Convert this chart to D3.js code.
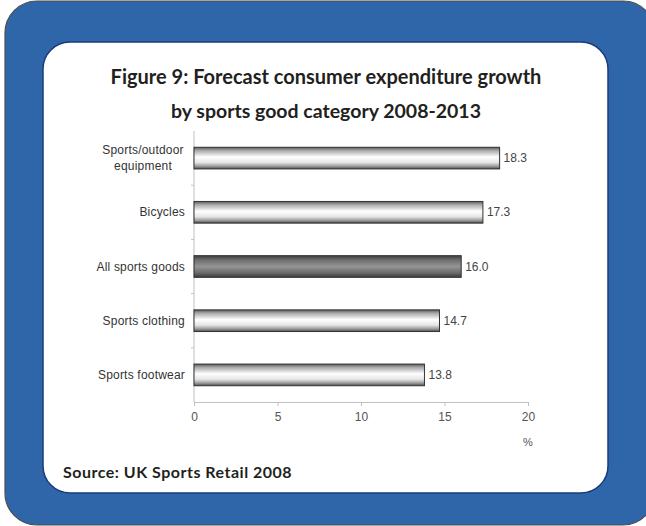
<!DOCTYPE html>
<html>
<head>
<meta charset="utf-8">
<script src="https://cdn.jsdelivr.net/npm/d3@7"></script>
<style>
    body { margin: 0; background: #fff; }
    svg { display: block; }
</style>
</head>
<body>
<div class="vis-bar"></div>
<script>
const categories = ['Sports/outdoor equipment', 'Bicycles', 'All sports goods', 'Sports clothing', 'Sports footwear'];
const values = [18.3, 17.3, 16.0, 14.7, 13.8];
const highlight = ['All sports goods'];
const xTicks = [0, 5, 10, 15, 20];
const titleLines = ['Figure 9: Forecast consumer expenditure growth', 'by sports good category 2008-2013'];
const sourceText = 'Source: UK Sports Retail 2008';

const W = 646;
const H = 526;
const margin = { top: 131, right: 118, bottom: 124, left: 194 };
const width = W - margin.left - margin.right;
const height = H - margin.top - margin.bottom;

const root = d3.select('.vis-bar')
    .append('svg')
    .attr('width', W)
    .attr('height', H);

const defs = root.append('defs');

// light bar gradient (tube look)
const gLight = defs.append('linearGradient')
    .attr('id', 'gLight')
    .attr('x1', 0).attr('y1', 0).attr('x2', 0).attr('y2', 1);
[[0, '#5a5a5a'], [0.15, '#a8a8a8'], [0.45, '#ffffff'], [0.7, '#e6e6e6'], [0.88, '#9a9a9a'], [1, '#4a4a4a']]
    .forEach(s => gLight.append('stop').attr('offset', s[0]).attr('stop-color', s[1]));

const gDark = defs.append('linearGradient')
    .attr('id', 'gDark')
    .attr('x1', 0).attr('y1', 0).attr('x2', 0).attr('y2', 1);
[[0, '#3e3e3e'], [0.2, '#6e6e6e'], [0.5, '#959595'], [0.8, '#6a6a6a'], [1, '#3a3a3a']]
    .forEach(s => gDark.append('stop').attr('offset', s[0]).attr('stop-color', s[1]));

// frame
root.append('rect')
    .attr('x', 5).attr('y', 1)
    .attr('width', 650).attr('height', 524)
    .attr('rx', 32)
    .attr('fill', '#2e66a9')
    .attr('stroke', '#4d4d4d')
    .attr('stroke-width', 1.2);

root.append('rect')
    .attr('x', 43).attr('y', 42)
    .attr('width', 565).attr('height', 451)
    .attr('rx', 27)
    .attr('fill', '#ffffff')
    .attr('stroke', '#1b3b7c')
    .attr('stroke-width', 1.5);

// title
root.selectAll('.title')
    .data(titleLines)
    .enter()
    .append('text')
    .attr('class', 'title')
    .attr('x', 326)
    .attr('y', (d, i) => 84 + i * 34)
    .attr('text-anchor', 'middle')
    .style('font-family', 'Lato, sans-serif')
    .style('font-weight', 'bold')
    .style('font-size', (d, i) => i === 0 ? '20px' : '19.5px')
    .attr('fill', '#231f20')
    .text(d => d);

root.append('text')
    .attr('x', 63)
    .attr('y', 478)
    .style('font-family', 'Lato, sans-serif')
    .style('font-weight', 'bold')
    .style('font-size', '16px')
    .style('letter-spacing', '0.5px')
    .attr('fill', '#231f20')
    .text(sourceText);

const svg = root.append('g')
    .attr('transform', 'translate(' + margin.left + ',' + margin.top + ')');

const x = d3.scaleLinear().domain([0, 20]).range([0, width]);
const y = d3.scaleBand().domain(categories).range([0, height]).paddingInner(0.6).paddingOuter(0.3);

// x axis
const xAxis = svg.append('g')
    .attr('transform', 'translate(0,' + height + ')')
    .call(d3.axisBottom(x).tickValues(xTicks).tickSize(4).tickPadding(6));
xAxis.select('.domain').attr('stroke', '#c0c0c0');
xAxis.selectAll('.tick line').attr('stroke', '#c0c0c0');
xAxis.selectAll('.tick text')
    .attr('fill', '#555')
    .style('font-family', 'Liberation Sans, Arial, sans-serif')
    .style('font-size', '12px');

// y axis: line and ticks at band boundaries
svg.append('line')
    .attr('x1', 0).attr('x2', 0)
    .attr('y1', 0).attr('y2', height)
    .attr('stroke', '#c0c0c0');
svg.selectAll('.ytick')
    .data(categories.slice(1))
    .enter()
    .append('line')
    .attr('class', 'ytick')
    .attr('x1', -3).attr('x2', 0)
    .attr('y1', d => y(d) - y.step() * y.paddingInner() / 2)
    .attr('y2', d => y(d) - y.step() * y.paddingInner() / 2)
    .attr('stroke', '#c0c0c0');

// category labels
const labels = svg.selectAll('.cat')
    .data(categories)
    .enter()
    .append('text')
    .attr('class', 'cat')
    .attr('fill', '#333')
    .style('font-family', 'Liberation Sans, Arial, sans-serif')
    .style('font-size', '12px')
    .style('letter-spacing', '0.2px');

labels.each(function (d) {
    const t = d3.select(this);
    const cy = y(d) + y.bandwidth() / 2;
    if (d === 'Sports/outdoor equipment') {
        t.attr('text-anchor', 'middle');
        [['Sports/outdoor', -4], ['equipment', 12]].forEach(p => {
            t.append('tspan').attr('x', -51).attr('y', cy + p[1]).text(p[0]);
        });
    } else {
        t.attr('text-anchor', 'end')
            .attr('x', -9)
            .attr('y', cy + 4)
            .text(d);
    }
});

// bars
svg.selectAll('.bar')
    .data(categories)
    .enter()
    .append('rect')
    .attr('class', 'bar')
    .attr('x', 0)
    .attr('y', d => y(d))
    .attr('width', (d, i) => x(values[i]))
    .attr('height', y.bandwidth())
    .attr('fill', d => highlight.includes(d) ? 'url(#gDark)' : 'url(#gLight)')
    .attr('stroke', '#333')
    .attr('stroke-width', 1);

// value labels
svg.selectAll('.val')
    .data(categories)
    .enter()
    .append('text')
    .attr('class', 'val')
    .attr('x', (d, i) => x(values[i]) + 4)
    .attr('y', d => y(d) + y.bandwidth() / 2 + 4)
    .attr('fill', '#444')
    .style('font-family', 'Liberation Sans, Arial, sans-serif')
    .style('font-size', '12px')
    .text((d, i) => values[i].toFixed(1));

// unit label
svg.append('text')
    .attr('x', x(20))
    .attr('y', height + 44)
    .attr('text-anchor', 'middle')
    .attr('fill', '#555')
    .style('font-family', 'Liberation Sans, Arial, sans-serif')
    .style('font-size', '11px')
    .text('%');
</script>
</body>
</html>
